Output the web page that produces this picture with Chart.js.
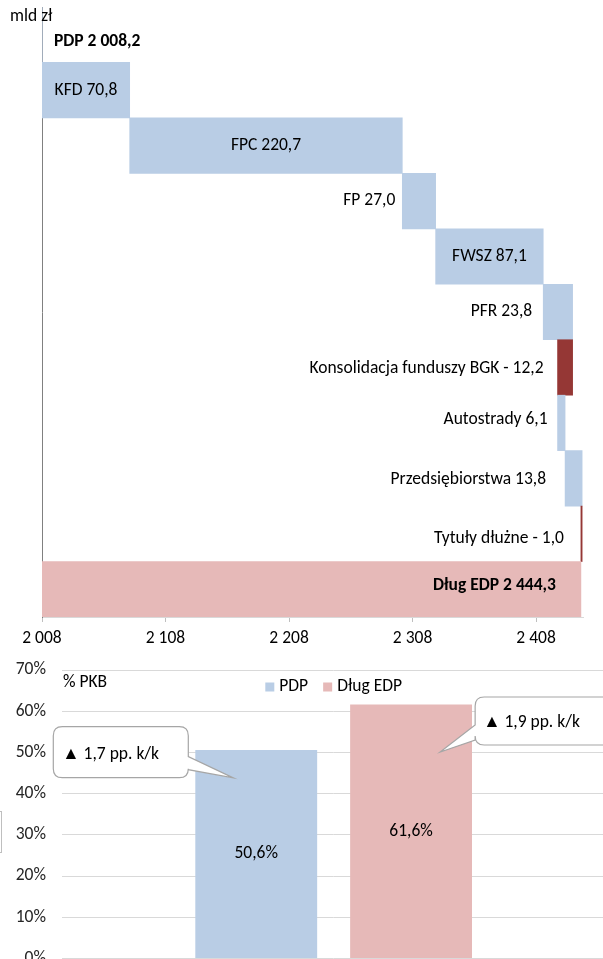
<!DOCTYPE html>
<html><head><meta charset="utf-8">
<script src="https://cdn.jsdelivr.net/npm/chart.js@4.4.1/dist/chart.umd.min.js"></script>
<style>
html,body{margin:0;padding:0;width:603px;height:959px;overflow:hidden;background:#fff;}
#c1{position:absolute;left:0;top:0;}
#c2{position:absolute;left:0;top:650px;}
</style></head><body>
<canvas id="c1" width="603" height="655"></canvas>
<canvas id="c2" width="612" height="330"></canvas>
<script>
// ---- data: waterfall (mld zł) ----
const wfCategories = ['PDP', 'KFD', 'FPC', 'FP', 'FWSZ', 'PFR', 'Konsolidacja funduszy BGK', 'Autostrady', 'Przedsiębiorstwa', 'Tytuły dłużne', 'Dług EDP'];
const wfValues = [2008.2, 70.8, 220.7, 27.0, 87.1, 23.8, -12.2, 6.1, 13.8, -1.0, 2444.3];
const wfIsTotal = [true, false, false, false, false, false, false, false, false, false, true];
const xTickValues = [2008, 2108, 2208, 2308, 2408];
const wfUnit = 'mld zł';

// ---- data: % PKB ----
const pctSeries = ['PDP', 'Dług EDP'];
const pctValues = [50.6, 61.6];
const pctChanges = ['▲ 1,7 pp. k/k', '▲ 1,9 pp. k/k'];
const pctTicks = [0, 10, 20, 30, 40, 50, 60, 70];
const pctUnit = '% PKB';

const FONT = 'Carlito, Calibri, Lato, "Liberation Sans", sans-serif';
const FS = 17.5;
const BLUE = '#B9CDE5', RED = '#953735', PINK = '#E6B9B8';

function fmtNum(v, dec) {
  const s = Math.abs(v).toFixed(dec);
  let [i, f] = s.split('.');
  i = i.replace(/\B(?=(\d{3})+(?!\d))/g, ' ');
  return (v < 0 ? '- ' : '') + i + (f !== undefined ? ',' + f : '');
}

// floating bars for waterfall
let run = 0;
const wfData = wfValues.map((v, i) => {
  if (wfIsTotal[i]) { run = v; return [0, v]; }
  const s = run; run = +(run + v).toFixed(1); return [s, run];
});
const wfColors = wfValues.map((v, i) => i === wfValues.length - 1 ? PINK : (v < 0 ? RED : BLUE));

const wfLabelPlugin = {
  id: 'wfLabels',
  afterDatasetsDraw(chart, args, o) {
    const ctx = chart.ctx, ca = chart.chartArea;
    const meta = chart.getDatasetMeta(0);
    ctx.save();
    ctx.fillStyle = '#000';
    ctx.textBaseline = 'middle';
    ctx.font = FS + 'px ' + FONT;
    ctx.textAlign = 'left';
    ctx.fillText(wfUnit, 10, 17);
    meta.data.forEach((bar, i) => {
      const left = Math.max(ca.left, Math.min(bar.x, bar.base));
      const right = Math.max(ca.left, Math.max(bar.x, bar.base));
      const text = wfCategories[i] + ' ' + fmtNum(wfValues[i], 1);
      const mode = o.modes[i];
      const y = bar.y + (o.dy[i] || 0);
      ctx.font = (wfIsTotal[i] ? 'bold ' : '') + FS + 'px ' + FONT;
      if (mode === 'center') { ctx.textAlign = 'center'; ctx.fillText(text, (left + right) / 2, y); }
      else if (mode === 'startIn') { ctx.textAlign = 'left'; ctx.fillText(text, left + o.gap[i], y); }
      else if (mode === 'endIn') { ctx.textAlign = 'right'; ctx.fillText(text, right - o.gap[i], y); }
      else { ctx.textAlign = 'right'; ctx.fillText(text, left - o.gap[i], y); }
    });
    ctx.restore();
  }
};

new Chart(document.getElementById('c1'), {
  type: 'bar',
  data: { labels: wfCategories, datasets: [{ data: wfData, backgroundColor: wfColors, borderWidth: 0, borderSkipped: false, barPercentage: 1, categoryPercentage: 1 }] },
  options: {
    indexAxis: 'y', responsive: false, animation: false, devicePixelRatio: 1,
    layout: { padding: { left: 42, top: 7, right: 20, bottom: 0 } },
    plugins: {
      legend: { display: false }, tooltip: { enabled: false },
      wfLabels: {
        modes: ['startIn', 'center', 'center', 'before', 'center', 'before', 'before', 'before', 'before', 'before', 'endIn'],
        gap:   [12, 0, 0, 7, 0, 11, 14, 10, 19, 17, 25],
        dy:    [7, 0, 0, 0, 0, 0, 1, -3, 1, 5, -4]
      }
    },
    scales: {
      x: {
        type: 'linear', min: 2008, max: 2446,
        afterBuildTicks: s => { s.ticks = xTickValues.map(v => ({ value: v })); },
        afterFit: s => { s.height = 38; s.paddingLeft = 0; s.paddingRight = 0; },
        grid: { drawOnChartArea: false, drawTicks: true, tickLength: 5, color: '#bfbfbf' },
        border: { display: true, color: '#d9d9d9' },
        ticks: { padding: 6, color: '#000', font: { family: FONT, size: FS }, maxRotation: 0, autoSkip: false, callback: v => fmtNum(v, 0) }
      },
      y: {
        grid: { display: false, drawTicks: false },
        border: { display: true, color: '#808080', width: 1 },
        ticks: { display: false },
        afterFit: s => { s.width = 0; s.paddingTop = 0; s.paddingBottom = 0; }
      }
    }
  },
  plugins: [wfLabelPlugin]
});

// ---- bottom chart ----
const pctColors = [BLUE, PINK];

const pctPlugin = {
  id: 'pctExtras',
  afterDatasetsDraw(chart, args, o) {
    const ctx = chart.ctx, ca = chart.chartArea;
    ctx.save();
    // unit
    ctx.font = FS + 'px ' + FONT; ctx.fillStyle = '#000'; ctx.textBaseline = 'middle'; ctx.textAlign = 'left';
    ctx.fillText(pctUnit, ca.left + 1, ca.top + 13);
    // legend
    const box = 9, gap = 5, sp = 15;
    const widths = pctSeries.map(s => ctx.measureText(s).width);
    const total = widths.reduce((a, w) => a + box + gap + w, 0) + sp * (pctSeries.length - 1);
    let x = (ca.left + ca.right) / 2 - total / 2;
    const ly = ca.top + 17;
    pctSeries.forEach((s, i) => {
      ctx.fillStyle = pctColors[i]; ctx.fillRect(x, ly - 4.5, box, box);
      ctx.fillStyle = '#000'; ctx.fillText(s, x + box + gap, ly);
      x += box + gap + widths[i] + sp;
    });
    // value labels
    ctx.textAlign = 'center';
    chart.data.datasets.forEach((ds, i) => {
      const bar = chart.getDatasetMeta(i).data[0];
      const yc = (bar.y + bar.base) / 2;
      ctx.fillStyle = '#000';
      ctx.fillText(fmtNum(ds.data[0], 1) + '%', bar.x, yc);
    });
    // callouts
    const ys = chart.scales.y;
    o.callouts.forEach((c, i) => {
      const bar = chart.getDatasetMeta(i).data[0];
      const tipX = bar.x - bar.width / 2 + c.tipDx;
      const tipY = ys.getPixelForValue(c.tipV);
      const bx = tipX + c.bx, by = tipY + c.by, bw = c.bw, bh = c.bh, r = 9;
      ctx.beginPath();
      if (c.side === 'right') {
        ctx.moveTo(bx + r, by);
        ctx.lineTo(bx + bw - r, by); ctx.quadraticCurveTo(bx + bw, by, bx + bw, by + r);
        ctx.lineTo(bx + bw, by + c.w1); ctx.lineTo(tipX, tipY); ctx.lineTo(bx + bw, by + c.w2);
        ctx.lineTo(bx + bw, by + bh - r); ctx.quadraticCurveTo(bx + bw, by + bh, bx + bw - r, by + bh);
        ctx.lineTo(bx + r, by + bh); ctx.quadraticCurveTo(bx, by + bh, bx, by + bh - r);
        ctx.lineTo(bx, by + r); ctx.quadraticCurveTo(bx, by, bx + r, by);
      } else {
        ctx.moveTo(bx + r, by);
        ctx.lineTo(bx + bw - r, by); ctx.quadraticCurveTo(bx + bw, by, bx + bw, by + r);
        ctx.lineTo(bx + bw, by + bh - r); ctx.quadraticCurveTo(bx + bw, by + bh, bx + bw - r, by + bh);
        ctx.lineTo(bx + r, by + bh); ctx.quadraticCurveTo(bx, by + bh, bx, by + bh - r);
        ctx.lineTo(bx, by + c.w2); ctx.lineTo(tipX, tipY); ctx.lineTo(bx, by + c.w1);
        ctx.lineTo(bx, by + r); ctx.quadraticCurveTo(bx, by, bx + r, by);
      }
      ctx.closePath();
      ctx.fillStyle = '#fff'; ctx.fill();
      ctx.lineWidth = 1.2; ctx.strokeStyle = '#a6a6a6'; ctx.stroke();
      ctx.fillStyle = '#000'; ctx.textAlign = 'left';
      ctx.fillText(pctChanges[i], bx + c.tx, by + c.ty);
    });
    // partial frame at left edge
    ctx.strokeStyle = '#bfbfbf'; ctx.lineWidth = 1;
    ctx.strokeRect(-20.5, 161.5, 22, 41);
    ctx.restore();
  }
};

new Chart(document.getElementById('c2'), {
  type: 'bar',
  data: {
    labels: [''],
    datasets: pctSeries.map((name, i) => ({ label: name, data: [pctValues[i]], backgroundColor: pctColors[i], borderWidth: 0, barPercentage: 0.787, categoryPercentage: 0.57 }))
  },
  options: {
    responsive: false, animation: false, devicePixelRatio: 1,
    layout: { padding: { left: 0, top: 20, right: 6.7, bottom: 21.6 } },
    plugins: {
      legend: { display: false }, tooltip: { enabled: false },
      pctExtras: {
        callouts: [
          { tipDx: 38, tipV: 43.8, bx: -180, by: -51.3, bw: 135, bh: 51, side: 'right', w1: 30, w2: 43, tx: 9, ty: 28 },
          { tipDx: 90, tipV: 50.1, bx: 35, by: -55, bw: 150, bh: 48, side: 'left', w1: 28, w2: 43, tx: 8, ty: 26 }
        ]
      }
    },
    scales: {
      x: { display: false },
      y: {
        min: 0, max: 70,
        afterBuildTicks: s => { s.ticks = pctTicks.map(v => ({ value: v })); },
        afterFit: s => { s.width = 62; s.paddingTop = 0; s.paddingBottom = 0; },
        grid: { color: '#d9d9d9', drawTicks: false },
        border: { display: false },
        ticks: { padding: 16, color: '#262626', font: { family: FONT, size: FS }, callback: v => v + '%' }
      }
    }
  },
  plugins: [pctPlugin]
});
</script>
</body></html>
